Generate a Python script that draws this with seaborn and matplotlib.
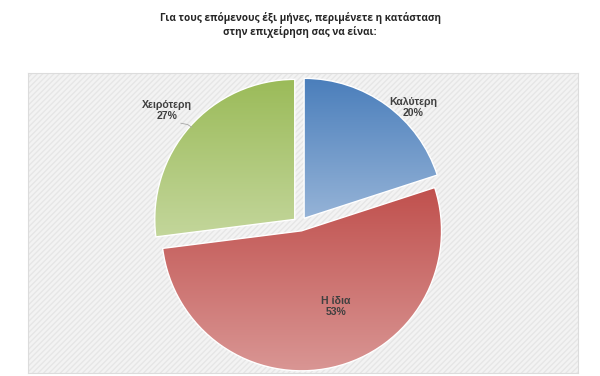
import numpy as np
import seaborn as sns
import matplotlib.pyplot as plt
from matplotlib.colors import LinearSegmentedColormap

# answers to: how will the business be in the next six months
labels = ["Καλύτερη", "Η ίδια", "Χειρότερη"]
shares = [20, 53, 27]
top_colors = ["#4a7ebb", "#c0504d", "#9bbb59"]
bottom_colors = ["#95b3d7", "#d99694", "#c3d69b"]

sns.set_theme(style="white")
plt.rcParams["font.family"] = ["Liberation Sans", "DejaVu Sans"]

fig = plt.figure(figsize=(6, 3.76), dpi=100)
fig.patch.set_facecolor("white")

# plot area with light hatched background
bg = fig.add_axes([28 / 600, 3 / 376, 550 / 600, 300 / 376])
bg.set_facecolor("#f3f3f3")
bg.patch.set_hatch("//////")
bg.patch.set_edgecolor("#e6e6e6")
bg.patch.set_linewidth(0)
bg.set_xticks([])
bg.set_yticks([])
for s in bg.spines.values():
    s.set_color("#dcdcdc")
    s.set_linewidth(0.8)

# pie axes, centred around (300, 224) px with radius ~140 px
R = 140
cx, cy = 300, 224
lim = 1.1
w = 2 * lim * R
ax = fig.add_axes([(cx - w / 2) / 600, (376 - cy - w / 2) / 376, w / 600, w / 376])
ax.set_aspect("equal")
ax.axis("off")

wedges, _ = ax.pie(shares, startangle=90, counterclock=False,
                   explode=[0.05] * len(shares), radius=1.0,
                   colors=top_colors,
                   wedgeprops=dict(edgecolor="white", linewidth=1.0))

grad = np.linspace(0, 1, 256).reshape(-1, 1)
for wdg, c1, c2 in zip(wedges, top_colors, bottom_colors):
    wdg.set_facecolor("none")
    verts = wdg.get_path().vertices
    x0, x1 = verts[:, 0].min(), verts[:, 0].max()
    y0, y1 = verts[:, 1].min(), verts[:, 1].max()
    cmap = LinearSegmentedColormap.from_list("g", [c1, c2])
    im = ax.imshow(grad, cmap=cmap, extent=[x0, x1, y0, y1],
                   origin="upper", aspect="auto", zorder=wdg.get_zorder() - 0.1)
    im.set_clip_path(wdg)
ax.set_xlim(-lim, lim)
ax.set_ylim(-lim, lim)

# data labels
pct = [f"{v}%" for v in shares]
label_r = [1.16, 0.64, 1.25]
label_shift = [-8, 11, 1.0]
angles = []
start = 90
for v in shares:
    span = 360 * v / sum(shares)
    angles.append(start - span / 2)
    start -= span
pos = []
for lab, p, a, r, d in zip(labels, pct, angles, label_r, label_shift):
    t = np.deg2rad(a + d)
    x, y = r * np.cos(t), r * np.sin(t)
    pos.append((x, y))
    ax.text(x, y, f"{lab}\n{p}", ha="center", va="center",
            fontsize=7.6, fontweight="bold", color="#404040", linespacing=1.1,
            zorder=5)

# small leader line from the left label to its slice
lx, ly = pos[2]
ax.plot([lx + 0.10, lx + 0.15, lx + 0.18],
        [ly - 0.09, ly - 0.10, ly - 0.12],
        color="#a6a6a6", lw=0.6, zorder=4)

fig.text(0.5, 1 - 25 / 376,
         "Για τους επόμενους έξι μήνες, περιμένετε η κατάσταση\nστην επιχείρηση σας να είναι:",
         ha="center", va="center", fontsize=7.2, fontweight="bold",
         color="#262626", family=["Open Sans", "DejaVu Sans"], linespacing=1.25)

fig.savefig("out.png", dpi=100)
